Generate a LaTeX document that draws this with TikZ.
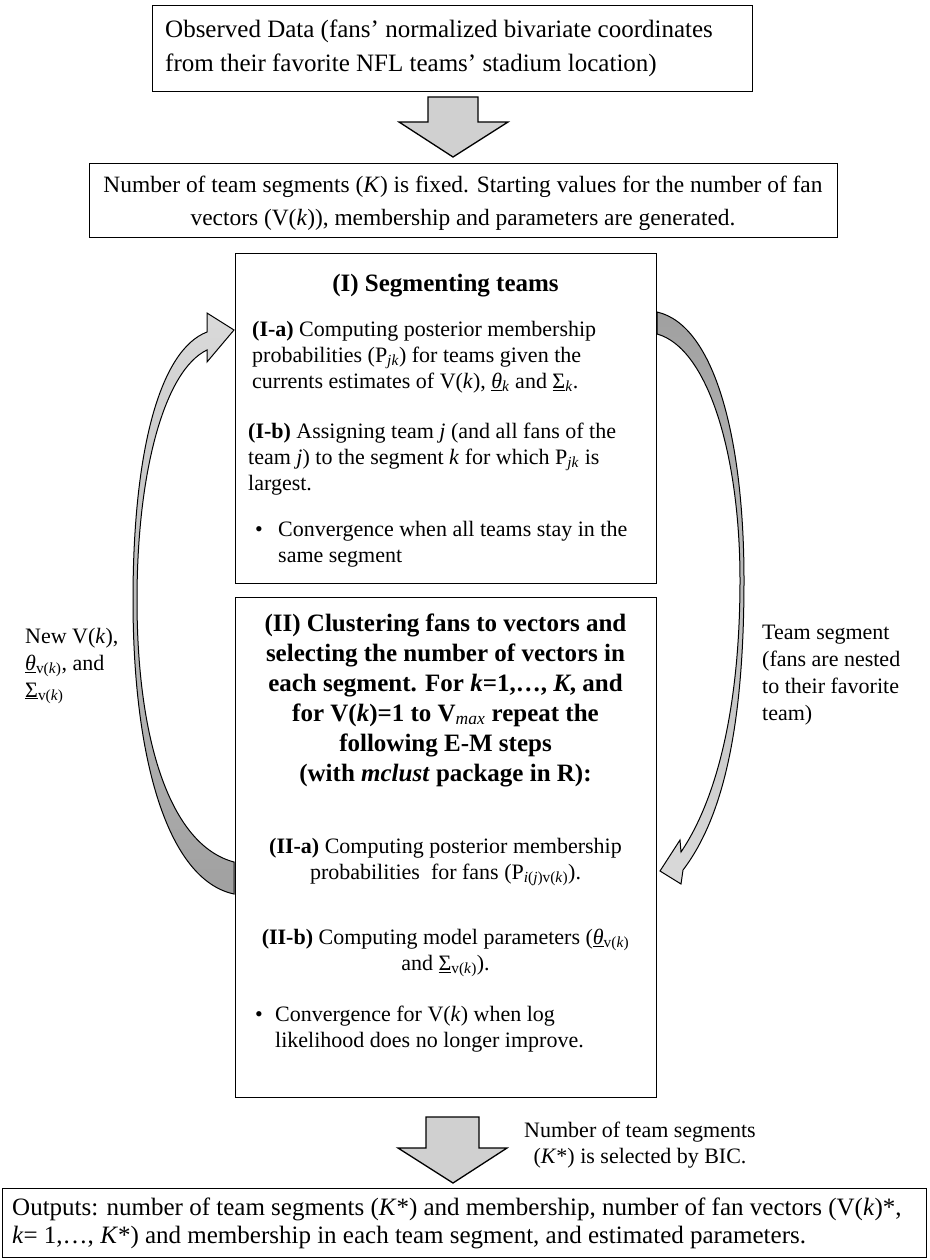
\documentclass[tikz,border=0pt]{standalone}
\usepackage{fontspec}
\setmainfont{Liberation Serif}
\usetikzlibrary{calc}
\definecolor{arrowfill}{RGB}{208,208,208}
\definecolor{curvelight}{RGB}{218,218,218}
\definecolor{curvedark}{RGB}{160,160,160}
\newcommand{\fBody}{\fontsize{22}{26}\selectfont}
\newcommand{\fTitle}{\fontsize{25}{30}\selectfont\bfseries}
\newcommand{\fTop}{\fontsize{25}{34}\selectfont}
\newcommand{\fMid}{\fontsize{23.4}{33}\selectfont}
\newcommand{\fOut}{\fontsize{25}{28}\selectfont}
\newcommand{\fLab}{\fontsize{22}{27}\selectfont}
\newcommand{\fBic}{\fontsize{22}{26}\selectfont}
\newcommand{\ks}{\textit{k}}
\begin{document}
\begin{tikzpicture}[x=1pt,y=-1pt,
  box/.style={draw=black, line width=1.3pt, fill=white, inner sep=0pt, anchor=north west},
  txt/.style={inner sep=0pt, anchor=north west, align=left},
  ctxt/.style={inner sep=0pt, anchor=north, align=center},
  blockarrow/.style={draw=black, line width=1.3pt, fill=arrowfill, line join=miter},
  curved/.style={draw=black, line width=1pt}]
\useasboundingbox (0,0) rectangle (929,1260);

% boxes
\node[box, minimum width=600, minimum height=86] (obs) at (152,5) {};
\node[box, minimum width=748, minimum height=74] (init) at (89,163) {};
\node[box, minimum width=421, minimum height=330] (seg) at (235,253) {};
\node[box, minimum width=421, minimum height=500] (clu) at (235,597) {};
\node[box, minimum width=924, minimum height=69] (out) at (2,1188) {};

% texts
\node[txt, font=\fTop] (obsT) at (165,14) {\strut Observed Data (fans’ normalized bivariate coordinates\\ from their favorite NFL teams’ stadium location)};
\node[ctxt, font=\fMid] (initT) at (463,169) {\strut Number of team segments (\textit{K}) is fixed. Starting values for the number of fan\\ vectors (V(\ks)), membership and parameters are generated.};

\node[ctxt, font=\fTitle] (segTitle) at (445.5,270) {\strut (I) Segmenting teams};
\node[txt, font=\fBody] (segA) at (252,318) {\strut\textbf{(I-a)} Computing posterior membership\\ probabilities (P\textsubscript{\textit{jk}}) for teams given the\\ currents estimates of V(\ks), \underline{\textit{θ}}\textsubscript{\textit{k}} and \underline{Σ}\textsubscript{\textit{k}}.};
\node[txt, font=\fBody] (segB) at (248,420) {\strut\textbf{(I-b)} Assigning team \textit{j} (and all fans of the\\ team \textit{j}) to the segment \ks{} for which P\textsubscript{\textit{jk}} is\\ largest.};
\node[txt, font=\fBody] (segBul) at (255,518) {\strut •};
\node[txt, font=\fBody] (segC) at (278,518) {\strut Convergence when all teams stay in the\\ same segment};

\node[ctxt, font=\fTitle] (cluTitle) at (445.5,610) {\strut (II) Clustering fans to vectors and\\ selecting the number of vectors in\\ each segment. For \ks=1,…, \textit{K}, and\\ for V(\ks)=1 to V\textsubscript{\normalfont\textit{max}} repeat the\\ following E-M steps\\ (with \textit{mclust} package in R):};
\node[ctxt, font=\fBody] (cluA) at (445.5,835) {\strut\textbf{(II-a)} Computing posterior membership\\ probabilities\ \ for fans (P\textsubscript{\textit{i}(\textit{j})v(\textit{k})}).};
\node[ctxt, font=\fBody] (cluB) at (445.5,926) {\strut\textbf{(II-b)} Computing model parameters (\underline{\textit{θ}}\textsubscript{v(\textit{k})}\\ and \underline{Σ}\textsubscript{v(\textit{k})}).};
\node[txt, font=\fBody] (cluBul) at (255,1003) {\strut •};
\node[txt, font=\fBody] (cluC) at (275,1003) {\strut Convergence for V(\ks) when log\\ likelihood does no longer improve.};

\node[txt, font=\fLab] (newV) at (25,624) {\strut New V(\ks),\\ \underline{\textit{θ}}\textsubscript{v(\textit{k})}, and\\ \underline{Σ}\textsubscript{v(\textit{k})}};
\node[txt, font=\fLab] (teamSeg) at (762,620) {\strut Team segment\\ (fans are nested\\ to their favorite\\ team)};
\node[ctxt, font=\fBic] (bic) at (640,1119) {\strut Number of team segments\\ (\textit{K}*) is selected by BIC.};
\node[txt, font=\fOut] (outT) at (12,1196) {\strut Outputs: number of team segments (\textit{K}*) and membership, number of fan vectors (V(\ks)*,\\ \ks= 1,…, \textit{K}*) and membership in each team segment, and estimated parameters.};

% block arrows
\draw[blockarrow] (428,97) -- (478,97) -- (478,122) -- (508,122) -- (453,157) -- (399,122) -- (428,122) -- cycle;
\draw[blockarrow] (426,1117) -- (479,1117) -- (479,1148) -- (507,1148) -- (453,1183) -- (398,1148) -- (426,1148) -- cycle;

% curved arrows
\shadedraw[curved, top color=curvelight, bottom color=curvedark]
  (234,862) .. controls (170,845) and (137,740) .. (137,600)
  .. controls (137,470) and (165,370) .. (207,350)
  -- (207,362) -- (234,330) -- (207,313) -- (207,332)
  .. controls (160,350) and (133,450) .. (133,600)
  .. controls (133,760) and (168,880) .. (234,894) -- cycle;
\shadedraw[curved, top color=curvedark, bottom color=curvelight]
  (657,312) .. controls (715,325) and (744,440) .. (744,580)
  .. controls (744,720) and (725,815) .. (683,870)
  -- (681,884) -- (660,871) -- (680,840) -- (681,852)
  .. controls (716,800) and (740,710) .. (740,580)
  .. controls (740,455) and (708,348) .. (657,334) -- cycle;
\end{tikzpicture}
\end{document}
